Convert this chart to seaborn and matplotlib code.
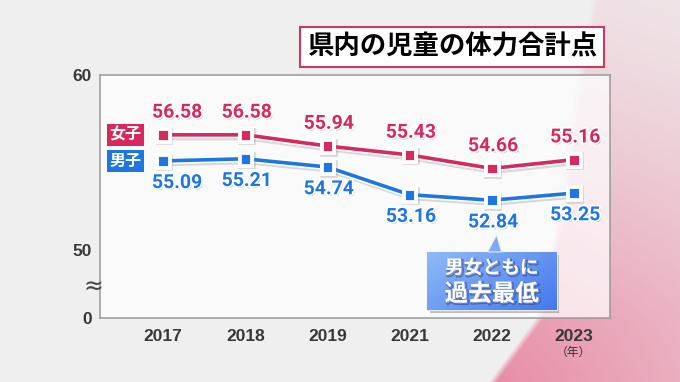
import numpy as np
import pandas as pd
import matplotlib
matplotlib.use('Agg')
import matplotlib.pyplot as plt
import matplotlib.patheffects as pe
from matplotlib.patches import FancyBboxPatch, Polygon
import seaborn as sns

# data
years = ['2017', '2018', '2019', '2021', '2022', '2023']
girls = [56.58, 56.58, 55.94, 55.43, 54.66, 55.16]
boys = [55.09, 55.21, 54.74, 53.16, 52.84, 53.25]
series_names = ['女子', '男子']
title = '県内の児童の体力合計点'
note_lines = ['男女ともに', '過去最低']
ytick_values = [50, 60]
ytick_labels = ['0', '50', '60']
AXIS_ZERO = 46.11  # position of "0" on the broken axis

PINK = '#d62a5e'
BLUE = '#1e76e2'
JP = ['Noto Sans CJK JP', 'DejaVu Sans']
NUM = ['Liberation Sans', 'DejaVu Sans']
LBL = ['Roboto', 'DejaVu Sans']

df = pd.DataFrame({
    'year': years * 2,
    'score': girls + boys,
    'sex': [series_names[0]] * len(years) + [series_names[1]] * len(years),
})

sns.set_theme(style='white')
plt.rcParams['font.family'] = JP

fig = plt.figure(figsize=(6.8, 3.82), dpi=100)

# background: light gray with a pink sweep on the right
H, W = 382, 680
yy, xx = np.mgrid[0:H, 0:W].astype(float)
gray = np.array([0.94, 0.94, 0.94])
pink = np.array([0.90, 0.45, 0.58])
edge = np.interp(yy, [0, 100, 200, 318, 382], [590, 572, 560, 535, 488])
inside = np.clip((xx - edge) / 8, 0, 1)
strength = (0.12 + 0.68 * (yy / H) ** 1.3) * (1 - 0.4 * np.clip((xx - edge) / 220, 0, 1))
s = (inside * strength)[..., None]
bg = fig.add_axes([0, 0, 1, 1], zorder=-10)
bg.imshow(gray * (1 - s) + pink * s, extent=[0, W, H, 0], aspect='auto')
bg.axis('off')

# main chart
ax = fig.add_axes([100 / 680, 64 / 382, 510 / 680, 243 / 382])
ax.set_facecolor((1, 1, 1, 0.72))
sns.lineplot(data=df, x='year', y='score', hue='sex', hue_order=series_names,
             palette={series_names[0]: PINK, series_names[1]: BLUE},
             marker='s', markersize=7, markeredgewidth=0.6, markeredgecolor='white',
             linewidth=2.6, legend=False, ax=ax)

line_fx = [pe.Stroke(linewidth=5.5, foreground='#888888', offset=(1, -1.2), alpha=0.3),
           pe.Stroke(linewidth=5, foreground='white'), pe.Normal()]
for ln in ax.lines:
    ln.set_path_effects(line_fx)

ax.set_xlim(-0.77, 5.44)
ax.set_ylim(AXIS_ZERO, 60)
ax.set_yticks([AXIS_ZERO] + ytick_values, ytick_labels)
ax.set_xlabel('')
ax.set_ylabel('')
ax.tick_params(length=0, colors='#383838', labelsize=12.5)
ax.tick_params(axis='y', pad=6)
ax.tick_params(axis='x', pad=8)
for lbl in ax.get_xticklabels() + ax.get_yticklabels():
    lbl.set_fontfamily(NUM)
    lbl.set_fontweight('bold')
for sp in ax.spines.values():
    sp.set_color('#999999')
    sp.set_linewidth(1.1)

# value labels
label_fx = [pe.withSimplePatchShadow(offset=(1, -1.2), shadow_rgbFace='#666666', alpha=0.5),
            pe.withStroke(linewidth=2.4, foreground='white')]
for vals, color, dy in [(girls, PINK, 16), (boys, BLUE, -16)]:
    for i, v in enumerate(vals):
        dx = 10 if i == 0 else 1
        ax.annotate(f'{v:.2f}', (i, v), xytext=(dx, dy), textcoords='offset points',
                    ha='center', va='center', color=color, fontsize=14,
                    fontweight='bold', family=LBL, path_effects=label_fx, zorder=6)

# series tags at the left
for name, vals, color in zip(series_names, [girls, boys], [PINK, BLUE]):
    ax.text(-0.46, vals[0], name, ha='center', va='center', color='white',
            fontsize=11.5, fontweight='bold',
            bbox=dict(boxstyle='square,pad=0.18', fc=color, ec='none'))

# axis break mark and year unit
ax.annotate('≈', xy=(0, 47.89), xycoords=('axes fraction', 'data'), xytext=(-4.5, 0),
            textcoords='offset points', ha='center', va='center', fontsize=17,
            color='#444444', family=['DejaVu Sans'])
ax.annotate('（年）', xy=(5, 0), xycoords=('data', 'axes fraction'), xytext=(0, -25),
            textcoords='offset points', ha='center', va='center', fontsize=8.5,
            color='#333333', annotation_clip=False)

# callout under the 2022 minimum
x0, x1, y0, y1 = 3.21, 4.79, 46.57, 49.886
box = FancyBboxPatch((x0, y0), x1 - x0, y1 - y0, boxstyle='square,pad=0',
                     fc='none', ec='#e8eeff', lw=1, clip_on=False, zorder=7,
                     path_effects=[pe.withSimplePatchShadow(offset=(2, -2), alpha=0.35)])
ax.add_patch(box)
gy, gx = np.mgrid[0:1:40j, 0:1:80j]
t = 0.6 * gx + 0.4 * gy
light = np.array([0.56, 0.73, 0.97])
dark = np.array([0.27, 0.47, 0.93])
grad = light * (1 - t[..., None]) + dark * t[..., None]
im = ax.imshow(grad, extent=[x0, x1, y0, y1], aspect='auto', zorder=7.5)
im.set_clip_path(box)
im.set_clip_box(None)
ax.add_patch(Polygon([(3.95, y1), (4.12, y1), (4.06, 50.86)], closed=True,
                     fc='#7ea8f4', ec='#e8eeff', lw=0.8, zorder=7.6, clip_on=False))
ax.set_xlim(-0.77, 5.44)
ax.set_ylim(AXIS_ZERO, 60)

note_fx = [pe.Stroke(linewidth=1.5, foreground='#2a4a9a', offset=(1, -1), alpha=0.6), pe.Normal()]
ax.text(4, 48.97, note_lines[0], ha='center', va='center', color='white',
        fontsize=13.5, fontweight='bold', zorder=8, path_effects=note_fx)
ax.text(4, 47.49, note_lines[1], ha='center', va='center', color='white',
        fontsize=17, fontweight='bold', zorder=8, path_effects=note_fx)

# title
fig.text(452 / 680, 1 - 47 / 382, title, ha='center', va='center', fontsize=19,
         fontweight='bold', color='black',
         bbox=dict(boxstyle='square,pad=0.25', fc='white', ec='#c83a64', lw=1.5))

fig.savefig('out.png', dpi=100)
